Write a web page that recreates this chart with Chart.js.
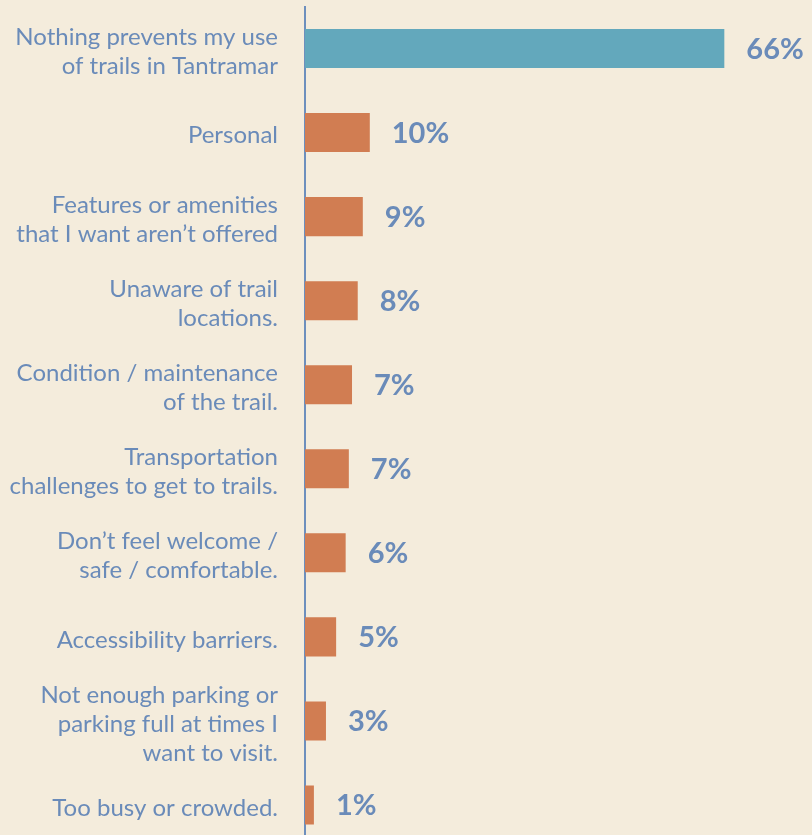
<!DOCTYPE html>
<html>
<head>
<meta charset="utf-8">
<script src="https://cdn.jsdelivr.net/npm/chart.js@4"></script>
<style>
  html, body { margin: 0; padding: 0; background: #f4ecdc; overflow: hidden; }
  #wrap { position: relative; width: 812px; height: 847px; }
</style>
</head>
<body>
<div id="wrap"><canvas id="barrierChart"></canvas></div>
<script>
// survey answers, top to bottom
const categories = [
  ['Nothing prevents my use', 'of trails in Tantramar'],
  'Personal',
  ['Features or amenities', 'that I want aren\u2019t offered'],
  ['Unaware of trail', 'locations.'],
  ['Condition / maintenance', 'of the trail.'],
  ['Transportation', 'challenges to get to trails.'],
  ['Don\u2019t feel welcome /', 'safe / comfortable.'],
  'Accessibility barriers.',
  ['Not enough parking or', 'parking full at times I', 'want to visit.'],
  'Too busy or crowded.'
];
// share of respondents (%)
const shares = [66, 10.2, 9.1, 8.3, 7.4, 6.9, 6.4, 4.9, 3.3, 1.4];
const shareLabels = ['66%', '10%', '9%', '8%', '7%', '7%', '6%', '5%', '3%', '1%'];

const BLUE_TEXT = '#6a8bb9';
const TEAL = '#63a8bc';
const ORANGE = '#d17d52';
const FONT = 'Lato, "Noto Sans", sans-serif';

// draw the % next to each bar
const valueLabels = {
  id: 'valueLabels',
  afterDatasetsDraw(chart) {
    const ctx = chart.ctx;
    const meta = chart.getDatasetMeta(0);
    ctx.save();
    ctx.font = 'bold 29px ' + FONT;
    ctx.fillStyle = BLUE_TEXT;
    ctx.textAlign = 'left';
    ctx.textBaseline = 'middle';
    meta.data.forEach((bar, i) => {
      ctx.fillText(shareLabels[i], bar.x + 22, bar.y + 1);
    });
    ctx.restore();
  }
};

const ctx = document.getElementById('barrierChart').getContext('2d');
new Chart(ctx, {
  type: 'bar',
  data: {
    labels: categories,
    datasets: [{
      data: shares,
      backgroundColor: shares.map((v, i) => i === 0 ? TEAL : ORANGE),
      borderWidth: 0,
      barPercentage: 0.93,
      categoryPercentage: 0.5,
    }],
  },
  options: {
    indexAxis: 'y',
    responsive: true,
    maintainAspectRatio: false,
    animation: false,
    layout: { padding: { top: 6.5, bottom: 0, left: 0, right: 0 } },
    plugins: {
      legend: { display: false },
      tooltip: { enabled: false },
    },
    scales: {
      x: {
        display: false,
        min: 0,
        max: 79.8,
      },
      y: {
        grid: { display: false, drawTicks: false },
        border: { display: true, color: '#6d8fbd', width: 2 },
        ticks: {
          color: BLUE_TEXT,
          padding: 27,
          autoSkip: false,
          labelOffset: 3,
          font: { family: FONT, size: 24, lineHeight: 1.21 },
        },
        afterFit(scale) {
          scale.width = 305;
          scale.paddingTop = 0;
          scale.paddingBottom = 0;
        },
      },
    },
  },
  plugins: [valueLabels],
});
</script>
</body>
</html>
